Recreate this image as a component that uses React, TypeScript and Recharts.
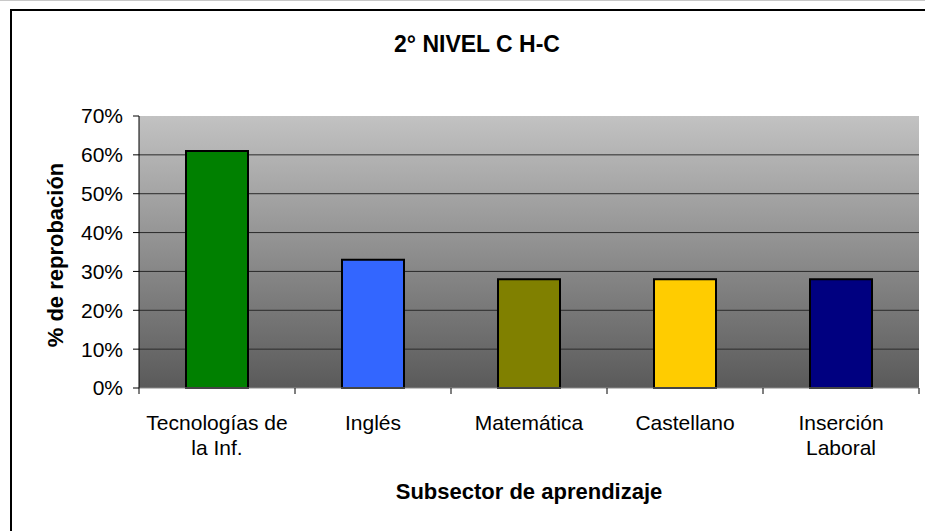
import { Bar, BarChart, CartesianGrid, Cell, Label, XAxis, YAxis } from 'recharts';

const categories = ['Tecnologías de\nla Inf.', 'Inglés', 'Matemática', 'Castellano', 'Inserción\nLaboral'];
const reprobacion = [61, 33, 28, 28, 28];
const barColors = ['#008000', '#3366ff', '#808000', '#ffcc00', '#000080'];
const yTicks = [0, 10, 20, 30, 40, 50, 60, 70];
const gridValues = [10, 20, 30, 40, 50, 60];

const data = categories.map((name, i) => ({ name, value: reprobacion[i] }));

const FONT = '"Liberation Sans", Arial, sans-serif';

/**
 * Etiqueta del eje X en dos líneas (se parte por \n).
 * Las marcas del eje van en los bordes de cada categoría (payload.offset = media banda).
 */
function CategoryTick(props: any) {
  const { x, y, payload, index, visibleTicksCount } = props;
  const lines = String(payload.value).split('\n');
  const half = payload.offset ?? 0;
  const isLast = index === visibleTicksCount - 1;
  return (
    <g>
      <line x1={x - half} x2={x - half} y1={y} y2={y + 6} stroke="#000" />
      {isLast && <line x1={x + half} x2={x + half} y1={y} y2={y + 6} stroke="#000" />}
      <text x={x} y={y + 42} textAnchor="middle" fontSize={21} fontFamily={FONT} fill="#000">
        {lines.map((line, i) => (
          <tspan key={i} x={x} dy={i === 0 ? 0 : 25}>
            {line}
          </tspan>
        ))}
      </text>
    </g>
  );
}

function YTitle({ viewBox }: any) {
  const cx = viewBox.x + 55;
  const cy = viewBox.y + viewBox.height / 2 + 3;
  return (
    <text
      x={cx}
      y={cy}
      transform={`rotate(-90 ${cx} ${cy})`}
      textAnchor="middle"
      dominantBaseline="central"
      fontSize={22}
      fontWeight="bold"
      fontFamily={FONT}
      fill="#000"
    >
      % de reprobación
    </text>
  );
}

function XTitle({ viewBox }: any) {
  return (
    <text
      x={viewBox.x + viewBox.width / 2}
      y={viewBox.y + 103}
      textAnchor="middle"
      dominantBaseline="central"
      fontSize={22}
      fontWeight="bold"
      fontFamily={FONT}
      fill="#000"
    >
      Subsector de aprendizaje
    </text>
  );
}

export default function App() {
  return (
    <div style={{ position: 'absolute', left: 0, top: 0, width: 925, height: 531, background: '#fff', overflow: 'hidden' }}>
      <div style={{ position: 'absolute', left: 0, top: 0, width: 925, height: 1, background: '#c8c8c8' }} />
      <div
        style={{
          position: 'absolute',
          left: 10,
          top: 9,
          width: 940,
          height: 560,
          border: '2px solid #000',
          boxSizing: 'border-box',
        }}
      />
      <div
        style={{
          position: 'absolute',
          left: 0,
          top: 29,
          width: 954,
          textAlign: 'center',
          fontFamily: FONT,
          fontWeight: 'bold',
          fontSize: 23,
          lineHeight: '30px',
          color: '#000',
        }}
      >
        2° NIVEL C H-C
      </div>
      <div style={{ position: 'absolute', left: 0, top: 0 }}>
        <BarChart width={925} height={531} data={data} margin={{ top: 116, right: 6, left: 0, bottom: 0 }}>
          <defs>
            <linearGradient id="plotBg" x1="0" y1="0" x2="0" y2="1">
              <stop offset="0%" stopColor="#c2c2c2" />
              <stop offset="100%" stopColor="#5a5a5a" />
            </linearGradient>
          </defs>
          <CartesianGrid
            vertical={false}
            horizontalValues={gridValues}
            stroke="#2a2a2a"
            fill="url(#plotBg)"
            fillOpacity={1}
          />
          <XAxis
            dataKey="name"
            interval={0}
            tickLine={false}
            tickSize={0}
            tickMargin={0}
            axisLine={{ stroke: '#8a8a8a' }}
            tick={<CategoryTick />}
            height={143}
          >
            <Label content={<XTitle />} />
          </XAxis>
          <YAxis
            domain={[0, 70]}
            ticks={yTicks}
            tickFormatter={(v) => `${v}%`}
            tick={{ fill: '#000', fontSize: 21, fontFamily: FONT }}
            tickSize={6}
            tickMargin={10}
            tickLine={{ stroke: '#000' }}
            axisLine={{ stroke: '#000' }}
            width={139}
            interval={0}
          >
            <Label content={<YTitle />} />
          </YAxis>
          <Bar dataKey="value" barSize={62} stroke="#000" strokeWidth={2} isAnimationActive={false}>
            {data.map((_, i) => (
              <Cell key={i} fill={barColors[i]} />
            ))}
          </Bar>
        </BarChart>
      </div>
    </div>
  );
}
